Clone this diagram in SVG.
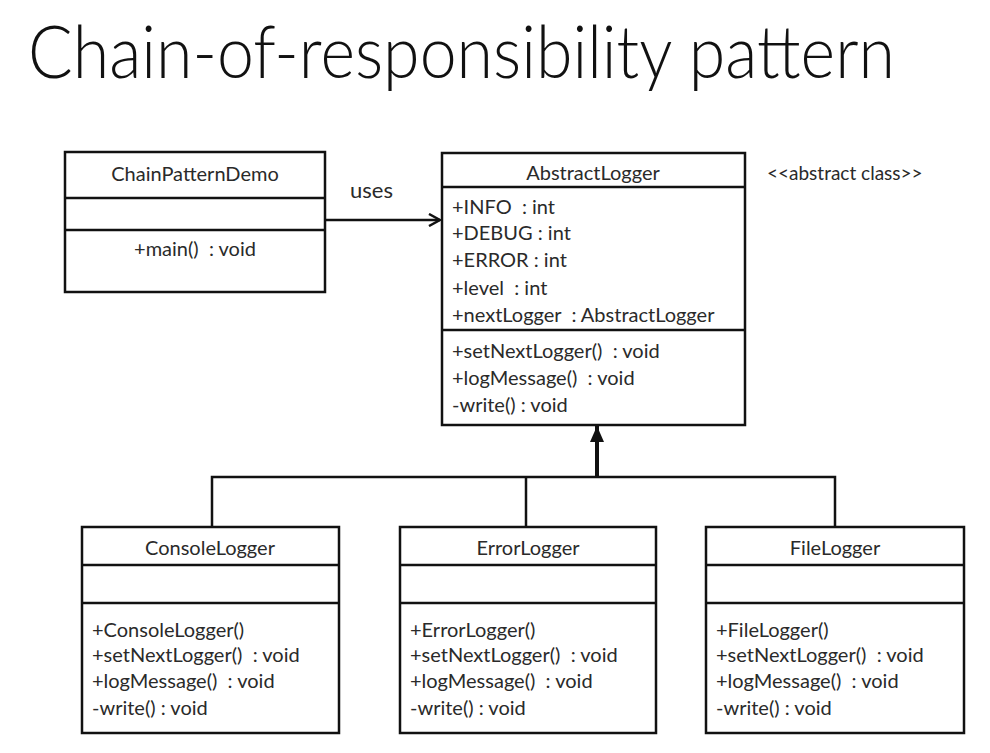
<svg xmlns="http://www.w3.org/2000/svg" width="990" height="753" viewBox="0 0 990 753">
<style>
.box{fill:#fff;stroke:#111;stroke-width:2.5}
.div{stroke:#111;stroke-width:2.5}
.t{font-family:Lato,"Liberation Sans",sans-serif;font-size:20px;fill:#2a2a2a;white-space:pre}
.c{text-anchor:middle}
.conn{stroke:#111;stroke-width:2.5;fill:none}
</style>
<defs>
<marker id="open" markerWidth="14" markerHeight="14" refX="12" refY="7" orient="auto" markerUnits="userSpaceOnUse">
<path d="M1,1 L12,7 L1,13" fill="none" stroke="#111" stroke-width="2.5"/>
</marker>
<marker id="tri" markerWidth="18" markerHeight="18" refX="16" refY="8" orient="auto" markerUnits="userSpaceOnUse">
<path d="M0,1 L16,8 L0,15 Z" fill="#111"/>
</marker>
</defs>
<rect width="990" height="753" fill="#fff"/>
<text x="28" y="78" font-family="Lato,'Liberation Sans',sans-serif" font-weight="300" font-size="72" fill="#111" textLength="867" lengthAdjust="spacingAndGlyphs">Chain-of-responsibility pattern</text>

<g id="connectors">
<line class="conn" x1="325" y1="220" x2="440" y2="220" marker-end="url(#open)"/>
<text class="t" x="350" y="198" style="font-size:22px">uses</text>
<polyline class="conn" points="212,527 212,477 835,477 835,527"/>
<line class="conn" x1="526" y1="477" x2="526" y2="527"/>
<line x1="597" y1="478" x2="597" y2="426" stroke="#111" stroke-width="4" marker-end="url(#tri)"/>
</g>

<g id="ChainPatternDemo">
<rect class="box" x="65" y="152" width="260" height="140"/>
<line class="div" x1="65" y1="198" x2="325" y2="198"/>
<line class="div" x1="65" y1="230" x2="325" y2="230"/>
<text class="t c" x="195" y="181">ChainPatternDemo</text>
<text class="t c" x="195" y="256">+main()  : void</text>
</g>

<g id="AbstractLogger">
<rect class="box" x="442" y="153" width="303" height="272"/>
<line class="div" x1="442" y1="187" x2="745" y2="187"/>
<line class="div" x1="442" y1="330" x2="745" y2="330"/>
<text class="t c" x="593" y="180">AbstractLogger</text>
<text class="t" x="452" y="214">+INFO  : int</text>
<text class="t" x="452" y="240">+DEBUG : int</text>
<text class="t" x="452" y="267">+ERROR : int</text>
<text class="t" x="452" y="295">+level  : int</text>
<text class="t" x="452" y="322">+nextLogger  : AbstractLogger</text>
<text class="t" x="452" y="358">+setNextLogger()  : void</text>
<text class="t" x="452" y="385">+logMessage()  : void</text>
<text class="t" x="452" y="412">-write() : void</text>
<text class="t" x="767" y="180" style="font-size:19px">&lt;&lt;abstract class&gt;&gt;</text>
</g>

<g id="ConsoleLogger">
<rect class="box" x="82" y="527" width="257" height="206"/>
<line class="div" x1="82" y1="565" x2="339" y2="565"/>
<line class="div" x1="82" y1="603" x2="339" y2="603"/>
<text class="t c" x="210" y="555">ConsoleLogger</text>
<text class="t" x="92" y="637">+ConsoleLogger()</text>
<text class="t" x="92" y="662">+setNextLogger()  : void</text>
<text class="t" x="92" y="688">+logMessage()  : void</text>
<text class="t" x="92" y="715">-write() : void</text>
</g>

<g id="ErrorLogger">
<rect class="box" x="400" y="527" width="256" height="206"/>
<line class="div" x1="400" y1="565" x2="656" y2="565"/>
<line class="div" x1="400" y1="603" x2="656" y2="603"/>
<text class="t c" x="528" y="555">ErrorLogger</text>
<text class="t" x="410" y="637">+ErrorLogger()</text>
<text class="t" x="410" y="662">+setNextLogger()  : void</text>
<text class="t" x="410" y="688">+logMessage()  : void</text>
<text class="t" x="410" y="715">-write() : void</text>
</g>

<g id="FileLogger">
<rect class="box" x="706" y="527" width="258" height="206"/>
<line class="div" x1="706" y1="565" x2="964" y2="565"/>
<line class="div" x1="706" y1="603" x2="964" y2="603"/>
<text class="t c" x="835" y="555">FileLogger</text>
<text class="t" x="716" y="637">+FileLogger()</text>
<text class="t" x="716" y="662">+setNextLogger()  : void</text>
<text class="t" x="716" y="688">+logMessage()  : void</text>
<text class="t" x="716" y="715">-write() : void</text>
</g>
</svg>
